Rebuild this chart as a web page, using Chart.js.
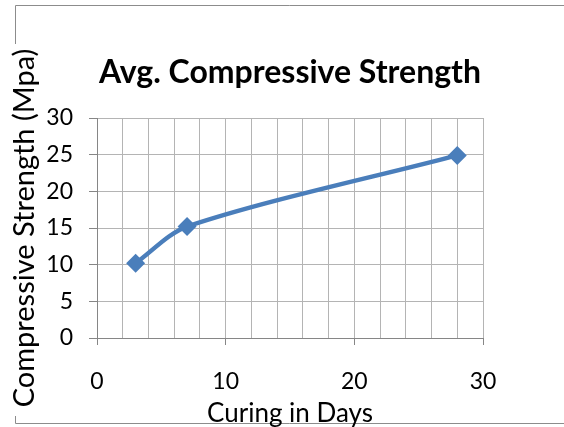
<!DOCTYPE html>
<html>
<head>
<meta charset="utf-8">
<script src="https://cdn.jsdelivr.net/npm/chart.js@4/dist/chart.umd.min.js"></script>
<style>
  html, body { margin: 0; padding: 0; background: #fff; }
  #wrap { width: 564px; height: 427px; }
</style>
</head>
<body>
<div id="wrap"><canvas id="strengthChart" width="564" height="427"></canvas></div>
<script>
// curing age (days) and average compressive strength (MPa)
var curingDays = [3, 7, 28];
var strengthMpa = [10.2, 15.2, 24.9];
var xTickStep = 2;      // minor gridlines every 2 days
var xLabelEvery = 10;   // labels only at 0, 10, 20, 30
var yTickStep = 5;
var chartTitle = 'Avg. Compressive Strength';

var fontFamily = "Lato, 'Open Sans', 'DejaVu Sans', sans-serif";
var lineBlue = "#4a7ebb";

// the outer frame, broken where the y title crosses it
var framePlugin = {
  id: 'frame',
  beforeDraw: function(chart){
    var ctx = chart.ctx;
    ctx.save();
    ctx.strokeStyle = '#8c8c8c';
    ctx.lineWidth = 1;
    ctx.beginPath();
    ctx.moveTo(564, 5.5);
    ctx.lineTo(15.5, 5.5);
    ctx.lineTo(15.5, 44);
    ctx.moveTo(15.5, 416);
    ctx.lineTo(15.5, 423.5);
    ctx.lineTo(564, 423.5);
    ctx.stroke();
    ctx.restore();
  }
};

// title centred over the plot area rather than the whole canvas
var plotTitlePlugin = {
  id: 'plotTitle',
  afterDraw: function(chart){
    var ctx = chart.ctx;
    var area = chart.chartArea;
    ctx.save();
    ctx.font = "bold 32px " + fontFamily;
    ctx.fillStyle = '#000';
    ctx.textAlign = 'center';
    ctx.textBaseline = 'middle';
    ctx.fillText(chartTitle, (area.left + area.right) / 2, 73);
    ctx.restore();
  }
};

var points = curingDays.map(function(d, i){ return {x: d, y: strengthMpa[i]}; });

var ctx = document.getElementById('strengthChart').getContext('2d');
var chart = new Chart(ctx, {
  type: 'line',
  data: {
    datasets: [{
      label: chartTitle,
      data: points,
      borderColor: lineBlue,
      backgroundColor: lineBlue,
      borderWidth: 4.5,
      tension: 0.3,
      pointStyle: 'rectRot',
      pointRadius: 9.5,
      pointHoverRadius: 9.5,
      pointBorderWidth: 0,
      fill: false
    }]
  },
  options: {
    responsive: false,
    animation: false,
    layout: { padding: { top: 118, left: 0, right: 81, bottom: 0 } },
    plugins: {
      legend: { display: false },
      tooltip: { enabled: false },
      title: { display: false }
    },
    scales: {
      x: {
        type: 'linear',
        min: 0,
        max: 30,
        afterFit: function(s){ s.height = 89; },
        ticks: {
          stepSize: xTickStep,
          autoSkip: false,
          maxRotation: 0,
          color: '#000',
          padding: 23,
          font: { family: fontFamily, size: 23 },
          callback: function(v){ return v % xLabelEvery === 0 ? v : ''; }
        },
        grid: {
          color: '#b4b4b4',
          tickLength: 7,
          tickColor: function(c){ return c.tick && c.tick.value % xLabelEvery === 0 ? '#868686' : 'rgba(0,0,0,0)'; }
        },
        border: { color: '#868686' },
        title: {
          display: true,
          text: 'Curing in Days',
          color: '#000',
          font: { family: fontFamily, size: 26 },
          padding: { top: 0, bottom: -2 }
        }
      },
      y: {
        min: 0,
        max: 30,
        afterFit: function(s){ s.width = 97; },
        ticks: {
          stepSize: yTickStep,
          color: '#000',
          padding: 16,
          font: { family: fontFamily, size: 23 }
        },
        grid: { color: '#b4b4b4', tickLength: 8, tickColor: '#868686' },
        border: { color: '#868686' },
        title: {
          display: true,
          text: 'Compressive Strength (Mpa)',
          color: '#000',
          font: { family: fontFamily, size: 29 },
          padding: { top: 7, bottom: 0 }
        }
      }
    }
  },
  plugins: [framePlugin, plotTitlePlugin]
});
</script>
</body>
</html>
